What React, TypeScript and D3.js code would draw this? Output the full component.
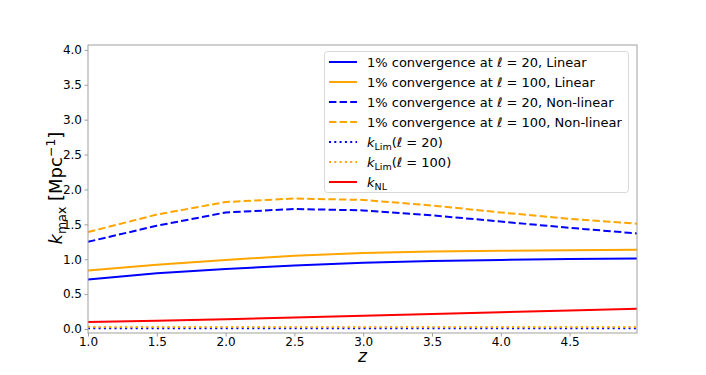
import { useRef, useEffect } from 'react';
import * as d3 from 'd3';

const zValues = [1.0, 1.5, 2.0, 2.5, 3.0, 3.5, 4.0, 4.5, 4.99];
const linear20 = [0.71, 0.80, 0.86, 0.91, 0.95, 0.975, 0.99, 1.005, 1.01];
const linear100 = [0.84, 0.92, 0.99, 1.05, 1.09, 1.11, 1.12, 1.13, 1.135];
const nonlinear20 = [1.25, 1.48, 1.67, 1.72, 1.70, 1.63, 1.54, 1.45, 1.37];
const nonlinear100 = [1.39, 1.64, 1.82, 1.87, 1.85, 1.77, 1.67, 1.58, 1.51];
const kLim20 = [0.01, 0.01, 0.01, 0.01, 0.01, 0.01, 0.01, 0.01, 0.01];
const kLim100 = [0.03, 0.03, 0.03, 0.03, 0.03, 0.03, 0.03, 0.03, 0.03];
const kNL = [0.10, 0.12, 0.14, 0.165, 0.19, 0.215, 0.24, 0.265, 0.29];

const xTicks = [1.0, 1.5, 2.0, 2.5, 3.0, 3.5, 4.0, 4.5];
const yTicks = [0.0, 0.5, 1.0, 1.5, 2.0, 2.5, 3.0, 3.5, 4.0];

const series = [
  { key: 'lin20', values: linear20, color: '#0000ff', dash: null, label: ['1% convergence at ', 'ℓ', ' = 20, Linear'] },
  { key: 'lin100', values: linear100, color: '#ffa500', dash: null, label: ['1% convergence at ', 'ℓ', ' = 100, Linear'] },
  { key: 'nl20', values: nonlinear20, color: '#0000ff', dash: '7.4,3.2', label: ['1% convergence at ', 'ℓ', ' = 20, Non-linear'] },
  { key: 'nl100', values: nonlinear100, color: '#ffa500', dash: '7.4,3.2', label: ['1% convergence at ', 'ℓ', ' = 100, Non-linear'] },
  { key: 'lim20', values: kLim20, color: '#0000ff', dash: '2,3.3', lim: '20' },
  { key: 'lim100', values: kLim100, color: '#ffa500', dash: '2,3.3', lim: '100' },
  { key: 'knl', values: kNL, color: '#ff0000', dash: null, nl: true },
];

const W = 706;
const H = 375;
const margin = { top: 45, right: 69, bottom: 42, left: 88 };
const FONT = 'DejaVu Sans, sans-serif';

export default function App() {
  const svgRef = useRef<SVGSVGElement>(null);

  useEffect(() => {
    if (!svgRef.current) return;
    const svg = d3.select(svgRef.current);
    svg.selectAll('*').remove();

    const x = d3.scaleLinear().domain([1, 4.99]).range([margin.left, W - margin.right]);
    const y = d3.scaleLinear().domain([-0.057, 4.07]).range([H - margin.bottom, margin.top]);

    const line = d3.line<number>()
      .x((_, i) => x(zValues[i]))
      .y(d => y(d));

    const g = svg.append('g');

    series.forEach(s => {
      g.append('path')
        .datum(s.values)
        .attr('fill', 'none')
        .attr('stroke', s.color)
        .attr('stroke-width', 2)
        .attr('stroke-dasharray', s.dash ?? null)
        .attr('d', line);
    });

    // frame
    g.append('rect')
      .attr('x', margin.left).attr('y', margin.top)
      .attr('width', W - margin.left - margin.right)
      .attr('height', H - margin.top - margin.bottom)
      .attr('fill', 'none').attr('stroke', '#a0a0a0').attr('stroke-width', 1);

    const xAxis = svg.append('g')
      .attr('transform', `translate(0,${H - margin.bottom})`)
      .call(d3.axisBottom(x).tickValues(xTicks).tickFormat(d3.format('.1f')).tickSize(3.5).tickSizeOuter(0));
    xAxis.select('.domain').remove();
    xAxis.selectAll('line').attr('stroke', '#a0a0a0');
    xAxis.selectAll('text').attr('font-family', FONT).attr('font-size', 12).attr('fill', '#000').attr('dy', '0.71em').attr('y', 4);

    const yAxis = svg.append('g')
      .attr('transform', `translate(${margin.left},0)`)
      .call(d3.axisLeft(y).tickValues(yTicks).tickFormat(d3.format('.1f')).tickSize(3.5).tickSizeOuter(0));
    yAxis.select('.domain').remove();
    yAxis.selectAll('line').attr('stroke', '#a0a0a0');
    yAxis.selectAll('text').attr('font-family', FONT).attr('font-size', 12).attr('fill', '#000').attr('x', -6);

    // axis labels
    svg.append('text')
      .attr('x', (margin.left + W - margin.right) / 2)
      .attr('y', 362)
      .attr('text-anchor', 'middle')
      .attr('font-family', FONT).attr('font-size', 17).attr('font-style', 'italic')
      .text('z');

    const yl = svg.append('text')
      .attr('transform', `translate(62,188) rotate(-90)`)
      .attr('text-anchor', 'middle')
      .attr('font-family', FONT).attr('font-size', 18);
    yl.append('tspan').attr('font-style', 'italic').text('k');
    yl.append('tspan').attr('font-size', 12.5).attr('dy', 4).text('max');
    yl.append('tspan').attr('dy', -4).text(' [Mpc');
    yl.append('tspan').attr('font-size', 12.5).attr('dy', -7).text('−1');
    yl.append('tspan').attr('dy', 7).text(']');

    // legend
    const lg = svg.append('g');
    lg.append('rect')
      .attr('x', 324.5).attr('y', 51.5).attr('width', 304).attr('height', 141).attr('rx', 3)
      .attr('fill', '#fff').attr('fill-opacity', 0.8).attr('stroke', '#d8d8d8');
    series.forEach((s, i) => {
      const cy = 62 + i * 20;
      lg.append('line')
        .attr('x1', 329).attr('x2', 357).attr('y1', cy).attr('y2', cy)
        .attr('stroke', s.color).attr('stroke-width', 2)
        .attr('stroke-dasharray', s.dash ?? null);
      const t = lg.append('text')
        .attr('x', 367).attr('y', cy + 5)
        .attr('font-family', FONT).attr('font-size', 13).attr('fill', '#000');
      if (s.label) {
        t.append('tspan').text(s.label[0]);
        t.append('tspan').attr('font-style', 'italic').text(s.label[1]);
        t.append('tspan').text(s.label[2]);
      } else if (s.lim) {
        t.append('tspan').attr('font-style', 'italic').text('k');
        t.append('tspan').attr('font-size', 9.5).attr('dy', 3).text('Lim');
        t.append('tspan').attr('dy', -3).text('(');
        t.append('tspan').attr('font-style', 'italic').text('ℓ');
        t.append('tspan').text(` = ${s.lim})`);
      } else {
        t.append('tspan').attr('font-style', 'italic').text('k');
        t.append('tspan').attr('font-size', 9.5).attr('dy', 3).text('NL');
      }
    });

    return () => { svg.selectAll('*').remove(); };
  }, []);

  return (
    <svg ref={svgRef} width={W} height={H} viewBox={`0 0 ${W} ${H}`}
      style={{ position: 'absolute', left: 0, top: 0, background: '#fff' }} />
  );
}
